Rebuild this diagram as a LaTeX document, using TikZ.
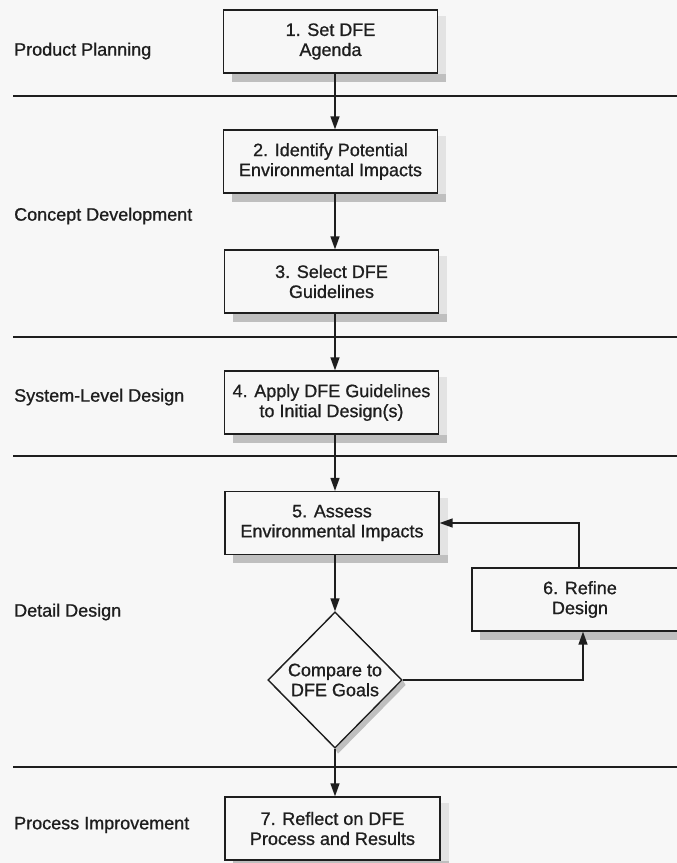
\documentclass[tikz,border=0pt]{standalone}
\usepackage{fontspec}
\setmainfont{Liberation Sans}[FakeBold=0.9]
\usetikzlibrary{arrows.meta,shapes.geometric,calc}
\definecolor{paper}{HTML}{F7F7F7}
\definecolor{ink}{HTML}{1E1E1E}
\tikzset{
  every node/.style={text=ink},
  stepbox/.style={draw=ink, line width=1.3pt, fill=paper, minimum width=214pt,
    minimum height=63pt, inner sep=0pt, align=center,
    font=\fontsize{18pt}{20pt}\selectfont},
  decide/.style={diamond, draw=ink, line width=1.3pt, fill=paper, minimum width=134pt,
    minimum height=136pt, inner sep=0pt, align=center,
    font=\fontsize{18pt}{20pt}\selectfont},
  phase/.style={anchor=west, inner sep=0pt, font=\fontsize{18pt}{20pt}\selectfont},
  sep/.style={draw=ink, line width=1.3pt},
  flow/.style={draw=ink, line width=1.4pt, -{Triangle[length=13pt,width=9pt]}},
  shadeR/.style={fill=gray!22},
  shadeB/.style={fill=gray!50},
}
% soft drop shadow: light strip on the right, darker strip underneath
\newcommand{\boxshade}[1]{%
  \fill[shadeR] ($(#1.north east)+(0,7)$) rectangle ($(#1.south east)+(8,8)$);
  \fill[shadeB] ($(#1.south west)+(9,0)$) rectangle ($(#1.south east)+(8,8)$);}
\begin{document}
\begin{tikzpicture}[x=1pt,y=-1pt]
  \useasboundingbox (0,0) rectangle (677,863);
  \clip (0,0) rectangle (677,863);
  \fill[paper] (0,0) rectangle (677,863);

  % phase separators
  \draw[sep] (13,96) -- (680,96);
  \draw[sep] (13,337) -- (680,337);
  \draw[sep] (13,456) -- (680,456);
  \draw[sep] (13,767) -- (680,767);

  % phase labels
  \node[phase] (pp) at (14,51) {Product Planning};
  \node[phase] (cd) at (14,216) {Concept Development};
  \node[phase] (sl) at (14,397) {System-Level Design};
  \node[phase] (dd) at (14,612) {Detail Design};
  \node[phase] (pi) at (14,825) {Process Improvement};

  % process steps
  \node[stepbox] (b1) at (330.5,41.5) {1. Set DFE\\Agenda};
  \node[stepbox] (b2) at (330.5,161.5) {2. Identify Potential\\Environmental Impacts};
  \node[stepbox] (b3) at (331.5,281.5) {3. Select DFE\\Guidelines};
  \node[stepbox] (b4) at (331.5,402.5) {4. Apply DFE Guidelines\\to Initial Design(s)};
  \node[stepbox] (b5) at (332,523) {5. Assess\\Environmental Impacts};
  \node[stepbox, minimum width=216pt] (b6) at (580,599.5) {6. Refine\\Design};
  \node[stepbox, minimum width=215pt] (b7) at (332.5,828.5) {7. Reflect on DFE\\Process and Results};

  % shadows
  \foreach \n in {b1,b2,b3,b4,b5,b6,b7} {\boxshade{\n}}
  \node[decide] (d) at (335,680) {Compare to\\DFE Goals};
  \fill[shadeB] (d.east) -- ($(d.east)+(3,5)$) -- ($(d.south)+(3,5)$) -- (d.south) -- cycle;
  \node[decide] at (d) {Compare to\\DFE Goals};

  % main flow
  \coordinate (spine) at (335,0);
  \draw[flow] (b1.south -| spine) -- (b2.north -| spine);
  \draw[flow] (b2.south -| spine) -- (b3.north -| spine);
  \draw[flow] (b3.south -| spine) -- (b4.north -| spine);
  \draw[flow] (b4.south -| spine) -- (b5.north -| spine);
  \draw[flow] (b5.south -| spine) -- (d.north);
  \draw[flow] (d.south) -- (b7.north -| spine);

  % refinement loop
  \draw[flow] (d.east) -| ([xshift=3pt]b6.south);
  \draw[flow] ([xshift=-1pt]b6.north) |- (b5.east);
\end{tikzpicture}
\end{document}
